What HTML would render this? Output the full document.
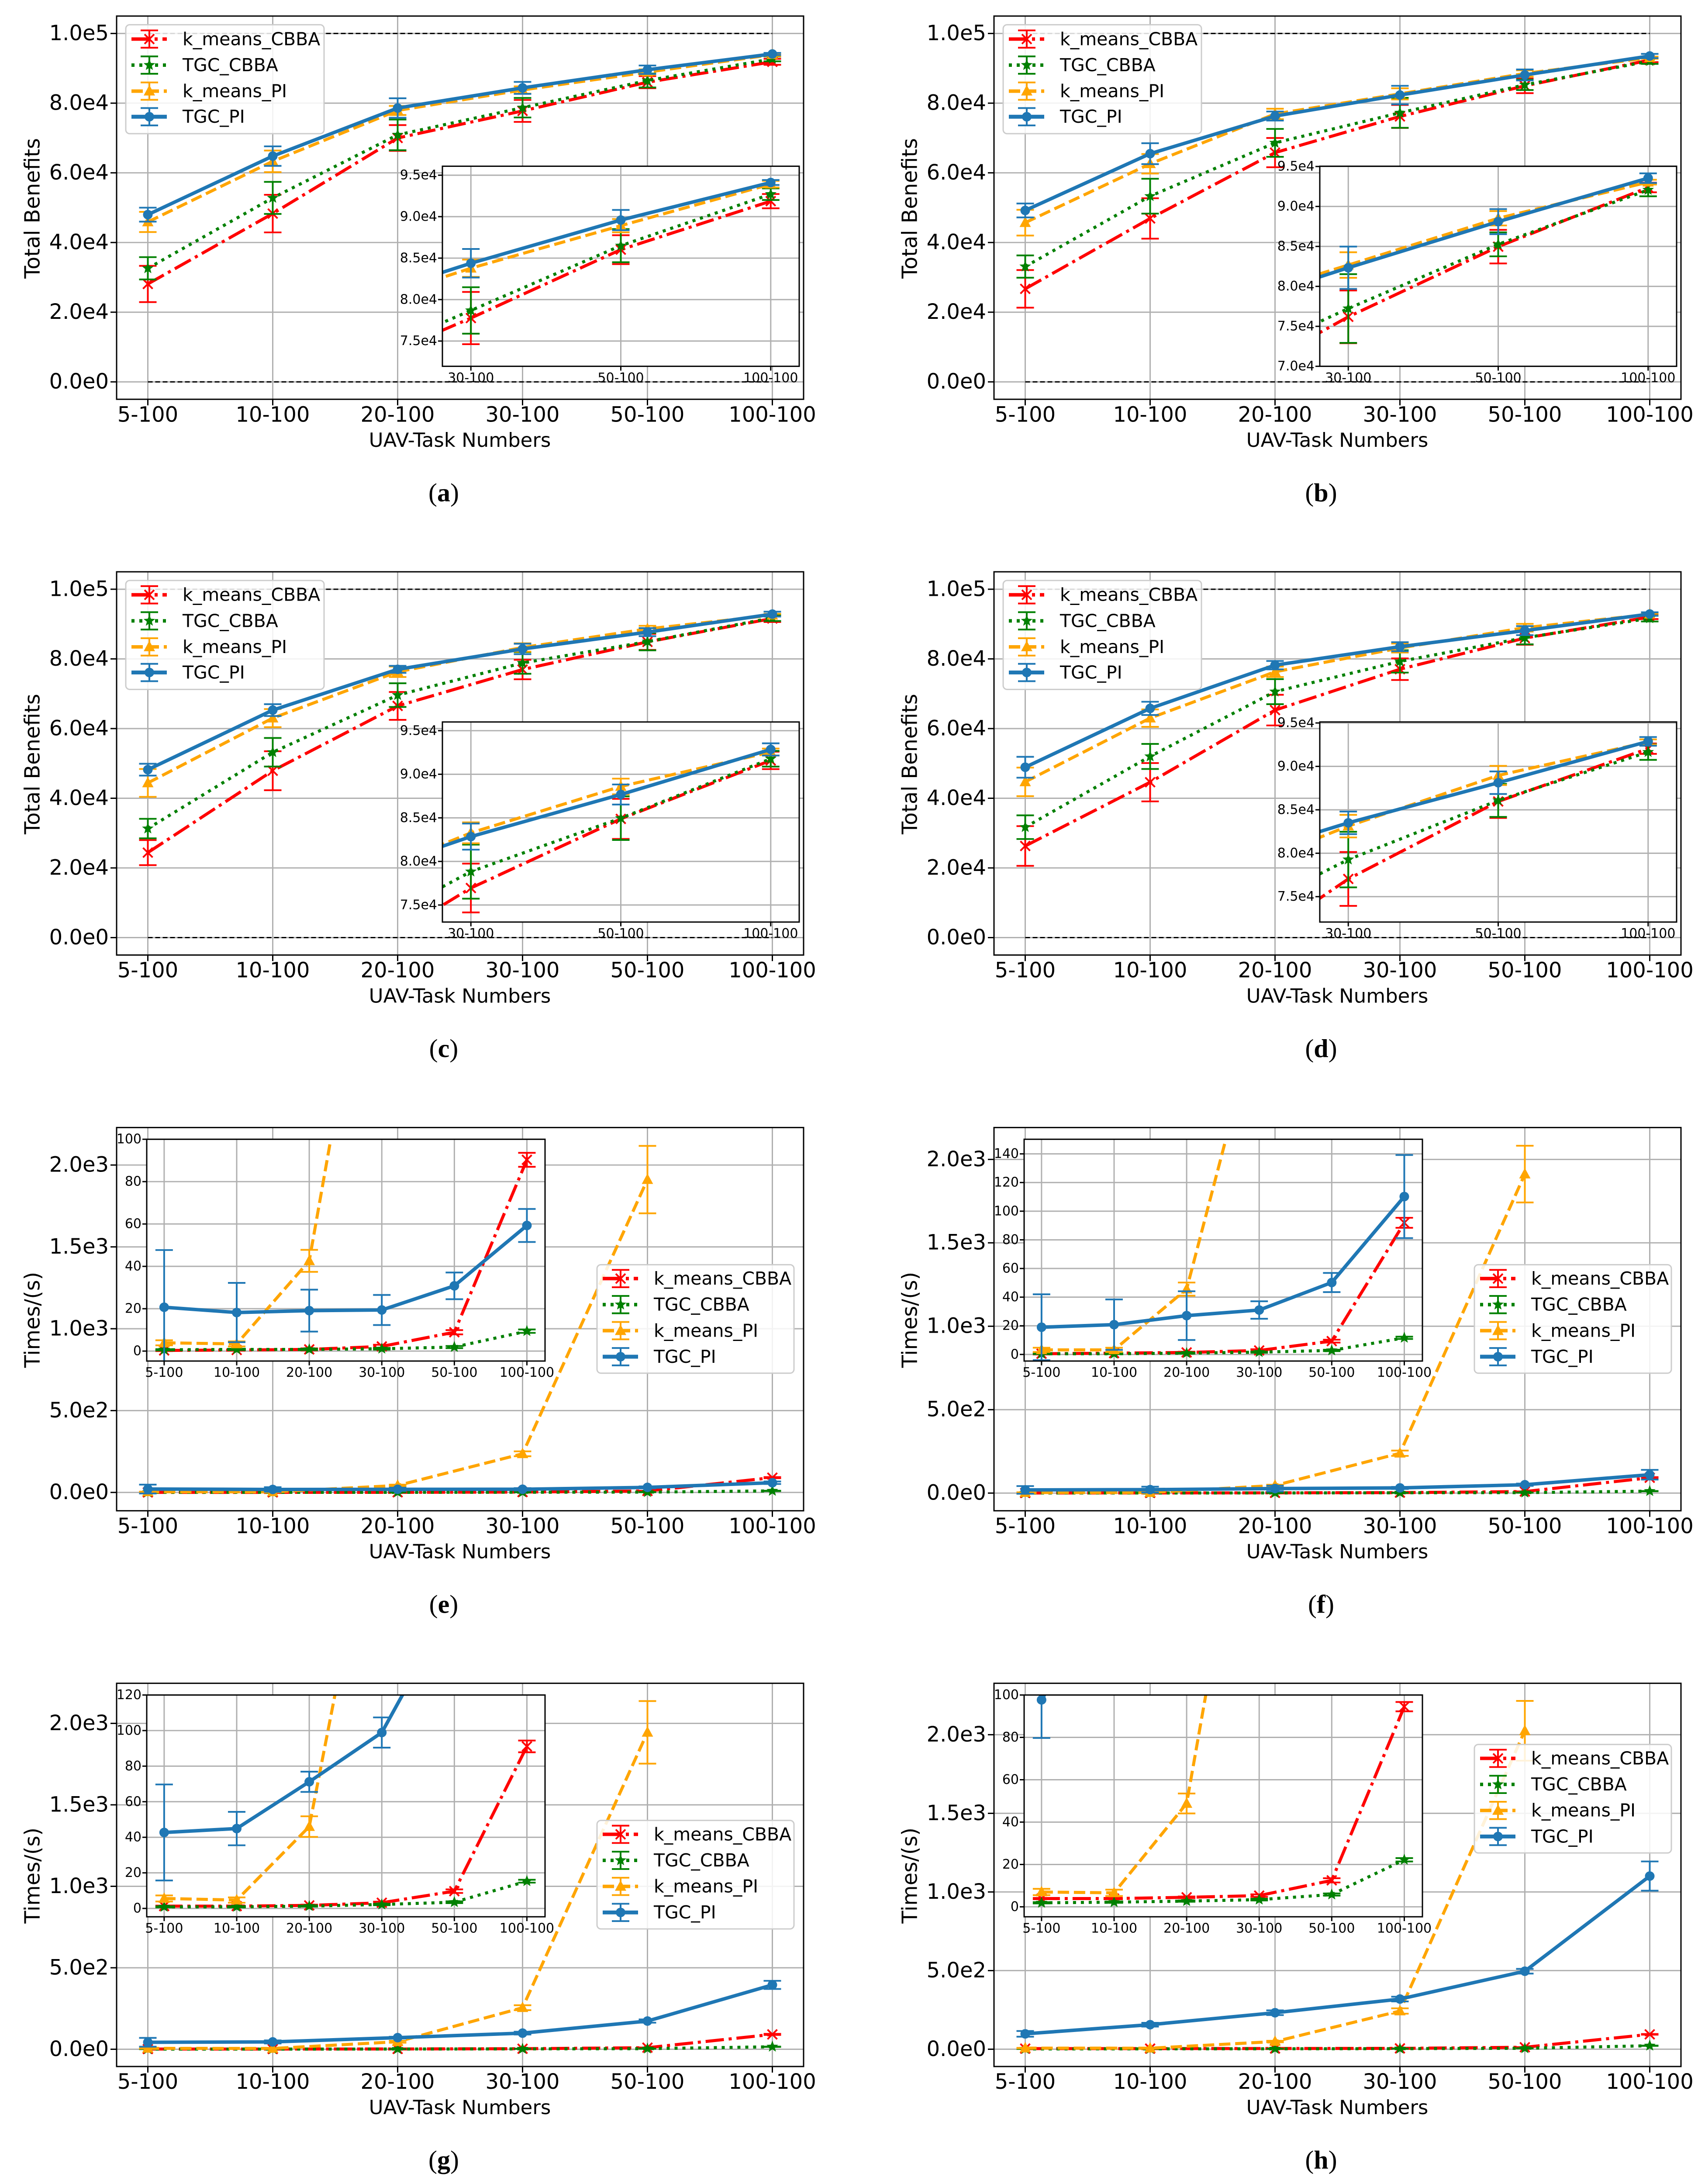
<!DOCTYPE html>
<html><head><meta charset="utf-8"><title>UAV task benefits and times</title>
<style>
html,body{margin:0;padding:0;background:#fff;}
svg{display:block;font-family:"DejaVu Sans","Liberation Sans",sans-serif;}
</style></head>
<body>
<svg id="fig" xmlns="http://www.w3.org/2000/svg" width="3888" height="5036" viewBox="0 0 3888 5036">
<rect x="0" y="0" width="3888" height="5036" fill="#fff"/>
<g id="root" transform="scale(1,0.9936)"></g>
</svg>
<script>
// ---------- data ----------
const categories = ['5-100','10-100','20-100','30-100','50-100','100-100'];
const seriesNames = ['k_means_CBBA','TGC_CBBA','k_means_PI','TGC_PI'];
const benefitTicks = [0,20000,40000,60000,80000,100000];
const benefitTickLabels = ['0.0e0','2.0e4','4.0e4','6.0e4','8.0e4','1.0e5'];
const timeTicks = [0,500,1000,1500,2000];
const timeTickLabels = ['0.0e0','5.0e2','1.0e3','1.5e3','2.0e3'];
const insetCategories = ['30-100','50-100','100-100'];

const a_kmCBBA = [28100,48300,70000,77770,86020,91870];
const a_kmCBBA_err = [5200,5400,3700,3150,1740,860];
const a_tgcCBBA = [32600,52800,70900,78690,86500,92710];
const a_tgcCBBA_err = [3200,4600,4400,2800,2000,700];
const a_kmPI = [45900,63300,77900,83780,88910,93920];
const a_kmPI_err = [2900,3100,1300,1040,800,400];
const a_tgcPI = [48000,64800,78600,84380,89590,94120];
const a_tgcPI_err = [2000,2800,2800,1720,1220,300];

const b_kmCBBA = [26700,46900,65800,76190,84970,92370];
const b_kmCBBA_err = [5400,5800,4200,3300,2100,600];
const b_tgcCBBA = [33100,53300,68600,77230,85260,92070];
const b_tgcCBBA_err = [3200,5000,4000,4300,1500,800];
const b_kmPI = [45700,62600,76900,82670,88520,93040];
const b_kmPI_err = [3700,2800,1500,1600,900,300];
const b_tgcPI = [49200,65500,76300,82330,88100,93540];
const b_tgcPI_err = [2000,3000,1300,2650,1570,600];

const c_kmCBBA = [24400,47900,66500,76950,84880,91590];
const c_kmCBBA_err = [3600,5600,4000,2800,2300,1000];
const c_tgcCBBA = [31300,53200,69600,78830,84960,91780];
const c_tgcCBBA_err = [2800,4100,3400,3100,2500,900];
const c_kmPI = [44400,63000,76300,83280,88600,92550];
const c_kmPI_err = [4000,2600,1500,1200,900,400];
const c_tgcPI = [48200,65300,77000,82850,87680,92850];
const c_tgcPI_err = [1700,1700,1000,1500,1150,700];

const d_kmCBBA = [26300,44600,65300,77040,85960,92040];
const d_kmCBBA_err = [5700,5500,4400,3100,1900,600];
const d_tgcCBBA = [31700,52000,70600,79270,86080,91650];
const d_tgcCBBA_err = [3400,3600,3600,3200,1900,900];
const d_kmPI = [44700,63000,76300,83120,88960,92810];
const d_kmPI_err = [4100,2500,1500,1300,1100,300];
const d_tgcPI = [48900,65800,78200,83500,88120,92880];
const d_tgcPI_err = [3000,1900,1200,1300,1300,500];

const e_kmCBBA = [0.3,0.5,0.8,2.2,8.9,90.3];
const e_kmCBBA_err = [0.3,0.3,0.5,0.8,1.0,3.3];
const e_tgcCBBA = [0.6,0.8,0.8,1.1,1.9,9.4];
const e_tgcCBBA_err = [0.3,0.3,0.3,0.4,0.5,0.8];
const e_kmPI = [3.9,3.4,42.6,236,1911,null];
const e_kmPI_err = [1.2,1.2,5.2,15,206,0];
const e_tgcPI = [20.7,18.2,19.1,19.4,30.8,59.3];
const e_tgcPI_err = [27,14,9.9,7.1,6.3,7.8];

const f_kmCBBA = [0.5,0.9,1.4,2.8,9.3,91.9];
const f_kmCBBA_err = [0.5,0.5,0.5,0.8,1.0,3.5];
const f_tgcCBBA = [0.5,0.5,0.9,1.6,2.8,11.6];
const f_tgcCBBA_err = [0.3,0.3,0.3,0.4,0.5,0.8];
const f_kmPI = [3.2,3.2,45.6,239,1912,null];
const f_kmPI_err = [1.5,1.5,4.6,16,170,0];
const f_tgcPI = [19.0,20.8,27.1,31.0,50.2,110.2];
const f_tgcPI_err = [23,17.6,17,6.1,6.7,29];

const g_kmCBBA = [1.3,1.3,1.7,3.2,9.7,91.1];
const g_kmCBBA_err = [0.3,0.3,0.4,0.6,1.0,3.3];
const g_tgcCBBA = [0.9,0.9,1.3,2.2,3.5,15.3];
const g_tgcCBBA_err = [0.3,0.3,0.3,0.4,0.5,0.8];
const g_kmPI = [5.6,4.7,46.0,255,1945,null];
const g_kmPI_err = [1.7,1.5,5.8,15,192,0];
const g_tgcPI = [42.7,44.9,71.2,98.9,173,395];
const g_tgcPI_err = [27,9.4,5.7,8.5,10,25];

const h_kmCBBA = [3.9,3.9,4.5,5.3,12.5,94.5];
const h_kmCBBA_err = [0.3,0.3,0.4,0.6,1.0,2.2];
const h_tgcCBBA = [1.9,2.2,2.7,3.4,5.8,22.2];
const h_tgcCBBA_err = [0.3,0.3,0.3,0.4,0.5,0.8];
const h_kmPI = [7.0,6.6,48.8,243,2025,null];
const h_kmPI_err = [1.5,1.5,4.7,17,190,0];
const h_tgcPI = [97.7,156,232,319,496,1101];
const h_tgcPI_err = [18,12,15,15,15,93];

// ---------- rendering ----------
const NS = 'http://www.w3.org/2000/svg';
const svg = document.getElementById('root');
function mk(tag, attrs, parent){
  const e = document.createElementNS(NS, tag);
  for (const k in attrs) e.setAttribute(k, attrs[k]);
  parent.appendChild(e);
  return e;
}
const styles = [
  {color:'#ff0000', dash:'42,11,7,11', marker:'x', w:7},
  {color:'#008000', dash:'7,11', marker:'star', w:7},
  {color:'#ffa500', dash:'26,11', marker:'tri', w:7},
  {color:'#1f77b4', dash:'', marker:'o', w:8}
];
const GRID = '#b0b0b0';

function drawMarker(g, type, x, y, color){
  let m;
  if (type === 'x'){
    m = mk('path', {d:`M${x-11},${y-11}L${x+11},${y+11}M${x-11},${y+11}L${x+11},${y-11}`, stroke:color, 'stroke-width':4, fill:'none'}, g);
  } else if (type === 'star'){
    let pts = [];
    for (let k=0;k<10;k++){
      const r = k%2===0 ? 14 : 6;
      const ang = -Math.PI/2 + k*Math.PI/5;
      pts.push((x + r*Math.cos(ang)).toFixed(1) + ',' + (y + r*Math.sin(ang)).toFixed(1));
    }
    m = mk('polygon', {points:pts.join(' '), fill:color}, g);
  } else if (type === 'tri'){
    m = mk('polygon', {points:`${x},${y-14} ${x-13},${y+10} ${x+13},${y+10}`, fill:color}, g);
  } else {
    m = mk('circle', {cx:x, cy:y, r:11, fill:color}, g);
  }
  
  
}

function drawSeries(g, vals, errs, xf, yf, st, name){
  const sg = mk('g', {}, g);
  
  
  for (let i=0;i<vals.length;i++){
    if (vals[i]===null) continue;
    const x = xf(i), y1 = yf(vals[i]-errs[i]), y2 = yf(vals[i]+errs[i]);
    const eb = mk('path', {d:`M${x},${y1}L${x},${y2}M${x-20},${y1}L${x+20},${y1}M${x-20},${y2}L${x+20},${y2}`, stroke:st.color, 'stroke-width':4, fill:'none'}, sg);
    
    
  }
  let d = '', pen = false;
  for (let i=0;i<vals.length;i++){
    if (vals[i]===null){ pen=false; continue; }
    d += (pen ? 'L' : 'M') + xf(i).toFixed(1) + ',' + yf(vals[i]).toFixed(1);
    pen = true;
  }
  const ln = mk('path', {d:d, stroke:st.color, 'stroke-width':st.w, fill:'none', 'stroke-dasharray':st.dash || 'none', 'stroke-linejoin':'round'}, sg);
  
  
  for (let i=0;i<vals.length;i++){
    if (vals[i]===null) continue;
    drawMarker(sg, st.marker, xf(i), yf(vals[i]), st.color);
  }
}

function drawLegend(g, x0, y0, x1, y1, rowY){
  const lg = mk('g', {}, g);
  
  
  mk('rect', {x:x0, y:y0, width:x1-x0, height:y1-y0, rx:9, fill:'#fff', 'fill-opacity':0.85, stroke:'#cccccc', 'stroke-width':3}, lg);
  for (let s=0;s<4;s++){
    const st = styles[s], cy = rowY[s], hx = x0+13, cx = hx+41;
    const ent = mk('g', {}, lg);
    
    
    mk('path', {d:`M${hx},${cy}L${hx+81},${cy}`, stroke:st.color, 'stroke-width':st.w+1, 'stroke-dasharray':st.dash||'none'}, ent);
    mk('path', {d:`M${cx},${cy-20}L${cx},${cy+20}M${cx-20},${cy-20}L${cx+20},${cy-20}M${cx-20},${cy+20}L${cx+20},${cy+20}`, stroke:st.color, 'stroke-width':4, fill:'none'}, ent);
    drawMarker(ent, st.marker, cx, cy, st.color);
    const t = mk('text', {x:hx+117, y:cy, 'font-size':41, 'dominant-baseline':'central'}, ent);
    t.textContent = seriesNames[s];
  }
}

let clipN = 0;
function drawPanel(p){
  const ox = p.col*2009, oy = p.row*1280.5;
  const g = mk('g', {transform:`translate(${ox},${oy})`}, svg);
  
  
  const L=267, R=1840, T=37, B=920;
  const [ylo, yhi] = p.ylim;
  const xf = i => L + (i+0.25)/5.5*(R-L);
  const yf = v => B - (v-ylo)/(yhi-ylo)*(B-T);
  const grid = mk('g', {stroke:GRID, 'stroke-width':3}, g);
  
  
  categories.forEach((c,i)=> mk('line', {x1:xf(i), x2:xf(i), y1:T, y2:B}, grid));
  p.ticks.forEach(v=> mk('line', {x1:L, x2:R, y1:yf(v), y2:yf(v)}, grid));
  const cid = 'clip' + (clipN++);
  const cp = mk('clipPath', {id:cid}, g);
  mk('rect', {x:L, y:T, width:R-L, height:B-T}, cp);
  const plot = mk('g', {'clip-path':`url(#${cid})`}, g);
  if (p.kind === 'benefit'){
    [0, 100000].forEach(v=>{
      const rl = mk('line', {x1:xf(0), x2:xf(5), y1:yf(v), y2:yf(v), stroke:'#000', 'stroke-width':3, 'stroke-dasharray':'11,6'}, plot);
      
      
    });
  }
  p.series.forEach((s,k)=> drawSeries(plot, s, p.errs[k], xf, yf, styles[k], seriesNames[k]));
  const fr = mk('rect', {x:L, y:T, width:R-L, height:B-T, fill:'none', stroke:'#000', 'stroke-width':3}, g);
  
  
  const ax = mk('g', {'font-size':48}, g);
  
  
  p.ticks.forEach((v,k)=>{
    mk('line', {x1:L-14, x2:L, y1:yf(v), y2:yf(v), stroke:'#000', 'stroke-width':3}, ax);
    const t = mk('text', {x:L-18, y:yf(v), 'text-anchor':'end', 'dominant-baseline':'central'}, ax);
    t.textContent = p.tickLabels[k];
  });
  categories.forEach((c,i)=>{
    mk('line', {x1:xf(i), x2:xf(i), y1:B, y2:B+14, stroke:'#000', 'stroke-width':3}, ax);
    const t = mk('text', {x:xf(i), y:956, 'text-anchor':'middle', 'dominant-baseline':'central'}, ax);
    t.textContent = c;
  });
  const xl = mk('text', {x:1053, y:1014, 'font-size':45, 'text-anchor':'middle', 'dominant-baseline':'central'}, g);
  
  
  xl.textContent = 'UAV-Task Numbers';
  const yl = mk('text', {x:0, y:0, 'font-size':48, 'text-anchor':'middle', 'dominant-baseline':'central', transform:'translate(75,480) rotate(-90)'}, g);
  
  
  yl.textContent = p.kind === 'benefit' ? 'Total Benefits' : 'Times/(s)';
  drawLegend(g, p.leg[0], p.leg[1], p.leg[2], p.leg[3], p.legRows);
  const ig = mk('g', {}, g);
  
  
  const IL = p.inset[0], IR = p.inset[1], IT = p.inset[2], IB = p.inset[3];
  const [iylo, iyhi] = p.iylim;
  let ixf, offset, ixlabels;
  if (p.kind === 'benefit'){
    ixf = i => IL + (i-3+0.19)/2.38*(IR-IL);
    ixlabels = insetCategories; offset = 3;
  } else {
    ixf = i => IL + (i+0.24)/5.49*(IR-IL);
    ixlabels = categories; offset = 0;
  }
  const iyf = v => IB - (v-iylo)/(iyhi-iylo)*(IB-IT);
  mk('rect', {x:IL, y:IT, width:IR-IL, height:IB-IT, fill:'#fff'}, ig);
  const ig2 = mk('g', {stroke:GRID, 'stroke-width':3}, ig);
  ixlabels.forEach((c,k)=> mk('line', {x1:ixf(k+offset), x2:ixf(k+offset), y1:IT, y2:IB}, ig2));
  p.iticks.forEach(v=> mk('line', {x1:IL, x2:IR, y1:iyf(v), y2:iyf(v)}, ig2));
  const icid = 'clip' + (clipN++);
  const icp = mk('clipPath', {id:icid}, ig);
  mk('rect', {x:IL, y:IT, width:IR-IL, height:IB-IT}, icp);
  const iplot = mk('g', {'clip-path':`url(#${icid})`}, ig);
  p.series.forEach((s,k)=> drawSeries(iplot, s, p.errs[k], ixf, iyf, styles[k], seriesNames[k]));
  mk('rect', {x:IL, y:IT, width:IR-IL, height:IB-IT, fill:'none', stroke:'#000', 'stroke-width':3}, ig);
  const it = mk('g', {'font-size':30}, ig);
  p.iticks.forEach(v=>{
    mk('line', {x1:IL-10, x2:IL, y1:iyf(v), y2:iyf(v), stroke:'#000', 'stroke-width':3}, it);
    const t = mk('text', {x:IL-12, y:iyf(v), 'text-anchor':'end', 'dominant-baseline':'central'}, it);
    t.textContent = p.iTickLabel(v);
  });
  ixlabels.forEach((c,k)=>{
    const x = ixf(k+offset);
    mk('line', {x1:x, x2:x, y1:IB, y2:IB+10, stroke:'#000', 'stroke-width':3}, it);
    const t = mk('text', {x:x, y:IB+27, 'text-anchor':'middle', 'dominant-baseline':'central'}, it);
    t.textContent = c;
  });
  const cap = mk('text', {x:1016, y:1135, 'font-size':60, 'text-anchor':'middle', 'dominant-baseline':'central', 'font-family':'"Liberation Serif", serif'}, g);
  
  
  cap.innerHTML = '(<tspan font-weight="bold">' + p.id + '</tspan>)';
}

const benLabel = v => (v/10000).toFixed(1) + 'e4';
const timeLabel = v => String(v);
const benLeg = [288,57,742,308], benRows = [90,150,210,269];
const timeLeg = [1367,353,1818,603], timeRows = [385,445,505,565];
const hLeg = [1367,178,1818,428], hRows = [210,270,330,390];
const bInset = [1013,1830,383,844], tInset = [336,1248,64,575];

const panels = [
 {id:'a', col:0,row:0, kind:'benefit', ylim:[-5000,105000], ticks:benefitTicks, tickLabels:benefitTickLabels,
  series:[a_kmCBBA,a_tgcCBBA,a_kmPI,a_tgcPI], errs:[a_kmCBBA_err,a_tgcCBBA_err,a_kmPI_err,a_tgcPI_err],
  inset:bInset, iylim:[71954,96082], iticks:[75000,80000,85000,90000,95000], iTickLabel:benLabel, leg:benLeg, legRows:benRows},
 {id:'b', col:1,row:0, kind:'benefit', ylim:[-5000,105000], ticks:benefitTicks, tickLabels:benefitTickLabels,
  series:[b_kmCBBA,b_tgcCBBA,b_kmPI,b_tgcPI], errs:[b_kmCBBA_err,b_tgcCBBA_err,b_kmPI_err,b_tgcPI_err],
  inset:bInset, iylim:[70000,95033], iticks:[70000,75000,80000,85000,90000,95000], iTickLabel:benLabel, leg:benLeg, legRows:benRows},
 {id:'c', col:0,row:1, kind:'benefit', ylim:[-5000,105000], ticks:benefitTicks, tickLabels:benefitTickLabels,
  series:[c_kmCBBA,c_tgcCBBA,c_kmPI,c_tgcPI], errs:[c_kmCBBA_err,c_tgcCBBA_err,c_kmPI_err,c_tgcPI_err],
  inset:bInset, iylim:[73046,96000], iticks:[75000,80000,85000,90000,95000], iTickLabel:benLabel, leg:benLeg, legRows:benRows},
 {id:'d', col:1,row:1, kind:'benefit', ylim:[-5000,105000], ticks:benefitTicks, tickLabels:benefitTickLabels,
  series:[d_kmCBBA,d_tgcCBBA,d_kmPI,d_tgcPI], errs:[d_kmCBBA_err,d_tgcCBBA_err,d_kmPI_err,d_tgcPI_err],
  inset:bInset, iylim:[72077,95115], iticks:[75000,80000,85000,90000,95000], iTickLabel:benLabel, leg:benLeg, legRows:benRows},
 {id:'e', col:0,row:2, kind:'time', ylim:[-112,2229], ticks:timeTicks, tickLabels:timeTickLabels,
  series:[e_kmCBBA,e_tgcCBBA,e_kmPI,e_tgcPI], errs:[e_kmCBBA_err,e_tgcCBBA_err,e_kmPI_err,e_tgcPI_err],
  inset:tInset, iylim:[-4.7,100], iticks:[0,20,40,60,80,100], iTickLabel:timeLabel, leg:timeLeg, legRows:timeRows},
 {id:'f', col:1,row:2, kind:'time', ylim:[-106,2191], ticks:timeTicks, tickLabels:timeTickLabels,
  series:[f_kmCBBA,f_tgcCBBA,f_kmPI,f_tgcPI], errs:[f_kmCBBA_err,f_tgcCBBA_err,f_kmPI_err,f_tgcPI_err],
  inset:tInset, iylim:[-4.6,150.2], iticks:[0,20,40,60,80,100,120,140], iTickLabel:timeLabel, leg:timeLeg, legRows:timeRows},
 {id:'g', col:0,row:3, kind:'time', ylim:[-106,2246], ticks:timeTicks, tickLabels:timeTickLabels,
  series:[g_kmCBBA,g_tgcCBBA,g_kmPI,g_tgcPI], errs:[g_kmCBBA_err,g_tgcCBBA_err,g_kmPI_err,g_tgcPI_err],
  inset:tInset, iylim:[-4.7,120], iticks:[0,20,40,60,80,100,120], iTickLabel:timeLabel, leg:timeLeg, legRows:timeRows},
 {id:'h', col:1,row:3, kind:'time', ylim:[-110,2327], ticks:timeTicks, tickLabels:timeTickLabels,
  series:[h_kmCBBA,h_tgcCBBA,h_kmPI,h_tgcPI], errs:[h_kmCBBA_err,h_tgcCBBA_err,h_kmPI_err,h_tgcPI_err],
  inset:tInset, iylim:[-4.7,100], iticks:[0,20,40,60,80,100], iTickLabel:timeLabel, leg:hLeg, legRows:hRows}
];
panels.forEach(drawPanel);
</script>
</body></html>
